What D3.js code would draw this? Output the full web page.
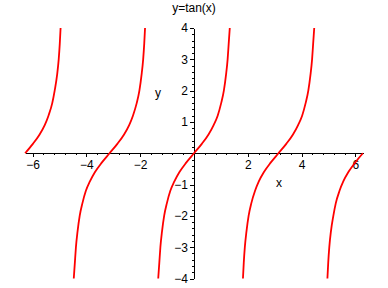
<!DOCTYPE html>
<html>
<head>
<meta charset="utf-8">
<script src="https://cdn.jsdelivr.net/npm/d3@7"></script>
<style>
body{margin:0;background:#fff;}
svg{display:block;font-family:"Liberation Sans",Arial,sans-serif;}
</style>
</head>
<body>
<div id="chart"></div>
<script>
// y values of one full branch, and of the half branches at the edges
const yFull=[-4,-3.5,-3,-2.5,-2,-1.6,-1.2,-0.9,-0.6,-0.3,0,0.3,0.6,0.9,1.2,1.6,2,2.5,3,3.5,4];
const yUpper=[0,0.3,0.6,0.9,1.2,1.6,2,2.5,3,3.5,4];
const yLower=[-4,-3.5,-3,-2.5,-2,-1.6,-1.2,-0.9,-0.6,-0.3,0];

// x values
const branchA_x=[-6.28,-5.99,-5.74,-5.55,-5.41,-5.27,-5.18,-5.09,-5.03,-4.99,-4.96];
const branchB_x=[-4.47,-4.43,-4.39,-4.33,-4.25,-4.15,-4.02,-3.87,-3.68,-3.43,-3.14,-2.85,-2.60,-2.41,-2.27,-2.13,-2.03,-1.95,-1.89,-1.85,-1.82];
const branchC_x=[-1.33,-1.29,-1.25,-1.19,-1.11,-1.01,-0.88,-0.73,-0.54,-0.29,0,0.29,0.54,0.73,0.88,1.01,1.11,1.19,1.25,1.29,1.33];
const branchD_x=[1.82,1.85,1.89,1.95,2.03,2.13,2.27,2.41,2.60,2.85,3.14,3.43,3.68,3.87,4.02,4.15,4.25,4.33,4.39,4.43,4.47];
const branchE_x=[4.96,4.99,5.03,5.09,5.18,5.27,5.41,5.55,5.74,5.99,6.28];

const xTicks=[-6,-4,-2,2,4,6];
const yTicks=[-4,-3,-2,-1,1,2,3,4];

const width=388, height=288;

const svg=d3.select("#chart").append("svg")
  .attr("width",width)
  .attr("height",height);

const x_scale=d3.scaleLinear()
  .domain([-2*Math.PI,2*Math.PI])
  .range([25,363]);

const y_scale=d3.scaleLinear()
  .domain([-4,4])
  .range([278.5,28]);

// minor ticks
const xMinor=d3.range(-15,16).map(k=>k*0.4).filter(v=>Math.abs(v-Math.round(v/2)*2)>0.01);
const yMinor=d3.range(-20,21).map(k=>k*0.2).filter(v=>Math.abs(v-Math.round(v))>0.01);

svg.append("g")
  .attr("transform","translate(0,"+y_scale(0)+")")
  .call(d3.axisBottom(x_scale).tickValues(xMinor).tickSize(2).tickSizeOuter(0).tickFormat(""))
  .call(g=>g.select(".domain").remove());

svg.append("g")
  .attr("transform","translate("+x_scale(0)+",0)")
  .call(d3.axisLeft(y_scale).tickValues(yMinor).tickSize(2).tickSizeOuter(0).tickFormat(""))
  .call(g=>g.select(".domain").remove());

// main axes
const xAxis=svg.append("g")
  .attr("transform","translate(0,"+y_scale(0)+")")
  .call(d3.axisBottom(x_scale).tickValues(xTicks).tickSize(4).tickSizeOuter(0).tickPadding(3));

const yAxis=svg.append("g")
  .attr("transform","translate("+x_scale(0)+",0)")
  .call(d3.axisLeft(y_scale).tickValues(yTicks).tickSize(4).tickSizeOuter(0).tickPadding(2));

svg.selectAll(".tick text")
  .attr("font-family","Liberation Sans, Arial, sans-serif")
  .attr("font-size",12)
  .attr("fill","#000");
svg.selectAll(".domain, .tick line").attr("stroke","#000").attr("shape-rendering","crispEdges");

// curve branches
const branches=[
  {xs:branchA_x, ys:yUpper},
  {xs:branchB_x, ys:yFull},
  {xs:branchC_x, ys:yFull},
  {xs:branchD_x, ys:yFull},
  {xs:branchE_x, ys:yLower}
];

const line=d3.line()
  .x(d=>x_scale(d[0]))
  .y(d=>y_scale(d[1]))
  .curve(d3.curveMonotoneX);

svg.selectAll(".branch")
  .data(branches)
  .enter()
  .append("path")
  .attr("class","branch")
  .attr("d",b=>line(b.xs.map((v,i)=>[v,b.ys[i]])))
  .attr("fill","none")
  .attr("stroke","#ff0000")
  .attr("stroke-width",1.8);

// title and axis labels
svg.append("text")
  .attr("x",194)
  .attr("y",12)
  .attr("text-anchor","middle")
  .attr("font-size",12)
  .text("y=tan(x)");

svg.append("text")
  .attr("x",158)
  .attr("y",97)
  .attr("text-anchor","middle")
  .attr("font-size",12)
  .text("y");

svg.append("text")
  .attr("x",279)
  .attr("y",187)
  .attr("text-anchor","middle")
  .attr("font-size",12)
  .text("x");
</script>
</body>
</html>
